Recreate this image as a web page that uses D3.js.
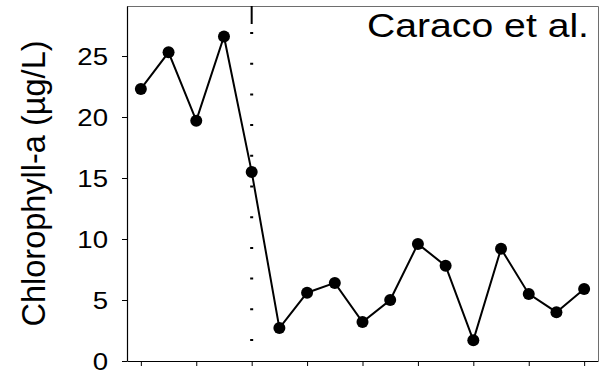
<!DOCTYPE html>
<html>
<head>
<meta charset="utf-8">
<script src="https://cdn.jsdelivr.net/npm/d3@7"></script>
<style>
  body { margin: 0; background: #fff; }
  text { font-family: "Liberation Sans", Arial, sans-serif; }
</style>
</head>
<body>
<div id="chart"></div>
<script>
// chlorophyll series, one value per sample
const chl = [22.3, 25.3, 19.7, 26.6, 15.5, 2.7, 5.6, 6.4, 3.2, 5.0, 9.6, 7.8, 1.7, 9.2, 5.5, 4.0, 5.9];
const yTicks = [0, 5, 10, 15, 20, 25];
const xTicks = [0, 2, 4, 6, 8, 10, 12, 14, 16];
const breakAt = 4; // dotted vertical line
const title = "Caraco et al.";
const yLabel = "Chlorophyll-a (\u00b5g/L)";

const W = 600, H = 372;
const mLeft = 127, mRight = 598, mTop = 6, mBottom = 361;

const svg = d3.select("#chart").append("svg")
    .attr("width", W)
    .attr("height", H);

const x = d3.scaleLinear().domain([-0.5, chl.length - 0.5]).range([mLeft, mRight]);
const y = d3.scaleLinear().domain([0, 29.1]).range([mBottom, mTop]);

// grey frame top/right
svg.append("path")
    .attr("d", `M${mLeft},${mTop + 0.5}H${mRight + 0.5}V${mBottom}`)
    .attr("fill", "none")
    .attr("stroke", "#6e6e6e")
    .attr("stroke-width", 1);

// x axis, ticks only
const gx = svg.append("g")
    .attr("transform", `translate(0,${mBottom})`)
    .call(d3.axisBottom(x).tickValues(xTicks).tickFormat("").tickSize(5).tickSizeOuter(0));

// y axis
const gy = svg.append("g")
    .attr("transform", `translate(${mLeft},0)`)
    .call(d3.axisLeft(y).tickValues(yTicks).tickSize(5).tickSizeOuter(0));

[gx, gy].forEach(g => {
    g.select(".domain").attr("stroke", "#000").attr("stroke-width", 1.2);
    g.selectAll(".tick line").attr("stroke", "#000").attr("stroke-width", 1);
});
gy.selectAll(".tick text")
    .attr("font-size", 23)
    .attr("fill", "#000")
    .attr("x", -15.8)
    .attr("dy", "0.36em")
    .attr("transform", "scale(1.2,1)");

// dotted break line
const bx = x(breakAt);
svg.append("line")
    .attr("x1", bx).attr("x2", bx)
    .attr("y1", y(0)).attr("y2", 28)
    .attr("stroke", "#000")
    .attr("stroke-width", 3)
    .attr("stroke-dasharray", "2 28.7")
    .attr("stroke-dashoffset", 10.7);
svg.append("line")
    .attr("x1", bx).attr("x2", bx)
    .attr("y1", mTop).attr("y2", 24)
    .attr("stroke", "#000")
    .attr("stroke-width", 2);

// series
const line = d3.line()
    .x((d, i) => x(i))
    .y(d => y(d));

svg.append("path")
    .datum(chl)
    .attr("d", line)
    .attr("fill", "none")
    .attr("stroke", "#000")
    .attr("stroke-width", 2);

svg.selectAll("circle.pt")
    .data(chl)
    .join("circle")
    .attr("class", "pt")
    .attr("cx", (d, i) => x(i))
    .attr("cy", d => y(d))
    .attr("r", 6)
    .attr("fill", "#000");

// title
svg.append("text")
    .attr("x", 367)
    .attr("y", 37)
    .attr("font-size", 32.5)
    .attr("textLength", 222)
    .attr("lengthAdjust", "spacingAndGlyphs")
    .text(title);

// y label
svg.append("text")
    .attr("transform", `translate(45,${(42 + 325) / 2}) rotate(-90)`)
    .attr("text-anchor", "middle")
    .attr("font-size", 32.5)
    .text(yLabel);
</script>
</body>
</html>
